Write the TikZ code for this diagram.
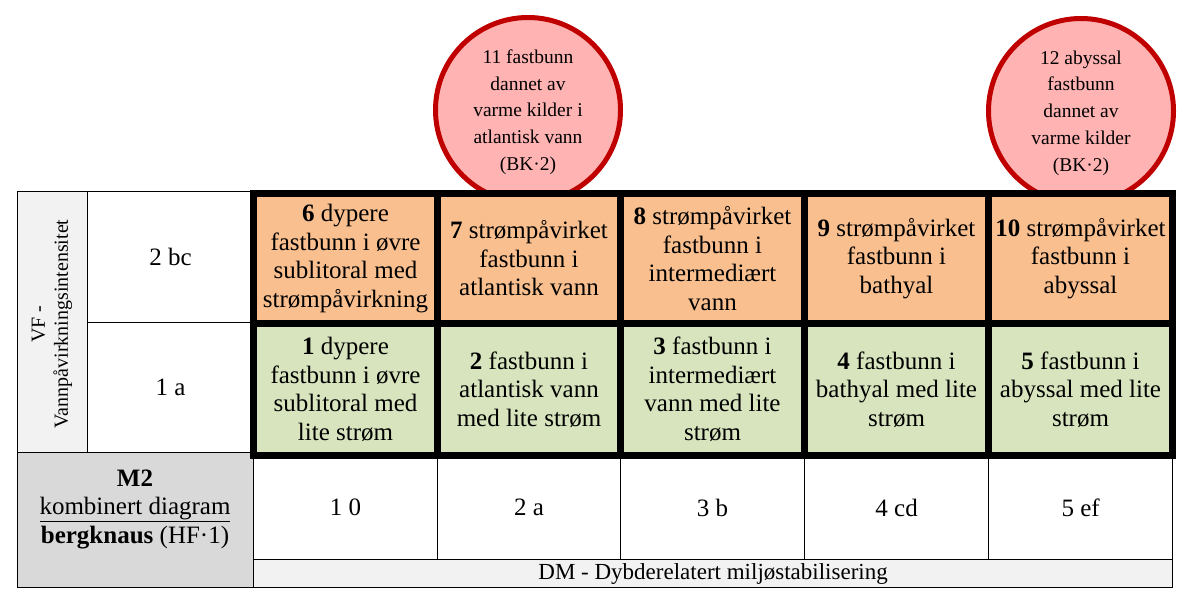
\documentclass[tikz,border=0pt]{standalone}
\usepackage{fontspec}
\setmainfont{Liberation Serif}
\definecolor{orangecell}{HTML}{F9BF8F}
\definecolor{greencell}{HTML}{D7E4BD}
\definecolor{greycell}{HTML}{D9D9D9}
\definecolor{lightcell}{HTML}{F2F2F2}
\definecolor{circfill}{HTML}{FFB3B3}
\definecolor{circline}{HTML}{C00000}
\newcommand{\cellfont}{\fontsize{25}{28.5}\selectfont}
\newcommand{\circfont}{\fontsize{19.5}{26.7}\selectfont}
\begin{document}
\begin{tikzpicture}[x=1pt,y=-1pt,
  cellbox/.style={draw=black,line width=1.2pt,inner sep=0pt,anchor=north west,font=\cellfont,align=center},
  colcell/.style={inner sep=0pt,font=\cellfont,align=center,minimum width=184pt},
  hotspot/.style={circle,draw=circline,fill=circfill,line width=5pt,minimum size=185pt,inner sep=0pt},
  hottext/.style={font=\circfont,align=center,inner sep=0pt},
  frame/.style={line width=7pt,draw=black}
]
\useasboundingbox (0,0) rectangle (1204,603);
% circles (behind the table)
\node[hotspot] (c11) at (528,110) {};
\node[hottext] (t11) at (528,112) {11 fastbunn\\dannet av\\varme kilder i\\atlantisk vann\\(BK·2)};
\node[hotspot] (c12) at (1081,111) {};
\node[hottext] (t12) at (1081,113) {12 abyssal\\fastbunn\\dannet av\\varme kilder\\(BK·2)};
% left header cells
\node[cellbox,fill=lightcell,minimum width=70pt,minimum height=261pt] (vf) at (17,191) {};
\node[font=\fontsize{20}{23}\selectfont,align=center,rotate=90,inner sep=0pt] (vftext) at (52,324) {VF -\\Vannpåvirkningsintensitet};
\node[cellbox,fill=white,minimum width=166pt,minimum height=131pt] (r2) at (87,191) {2 bc};
\node[cellbox,fill=white,minimum width=166pt,minimum height=130pt] (r1) at (87,322) {1 a};
% bottom-left grey cell
\node[cellbox,fill=greycell,minimum width=236pt,minimum height=135pt] (m2) at (17,452) {};
\node[font=\cellfont,align=center,inner sep=0pt] (m2text) at (135,509) {\textbf{M2}\\\underline{kombinert diagram}\\\textbf{bergknaus} (HF·1)};
% depth cells
\node[cellbox,fill=white,minimum width=184pt,minimum height=104pt] (d1) at (253,455) {1 0};
\node[cellbox,fill=white,minimum width=183pt,minimum height=104pt] (d2) at (437,455) {2 a};
\node[cellbox,fill=white,minimum width=184pt,minimum height=104pt] (d3) at (620,455) {3 b};
\node[cellbox,fill=white,minimum width=184pt,minimum height=104pt] (d4) at (804,455) {4 cd};
\node[cellbox,fill=white,minimum width=184pt,minimum height=104pt] (d5) at (988,455) {5 ef};
\node[cellbox,fill=lightcell,minimum width=919pt,minimum height=28pt,font=\fontsize{23}{26}\selectfont] (dm) at (253,559) {DM - Dybderelatert miljøstabilisering};
% coloured cells, upper row
\node[colcell,fill=orangecell,minimum height=130pt] (k6) at (345.5,258.5) {\textbf{6} dypere\\fastbunn i øvre\\sublitoral med\\strømpåvirkning};
\node[colcell,fill=orangecell,minimum height=130pt,minimum width=183pt] (k7) at (529,258.5) {\textbf{7} strømpåvirket\\fastbunn i\\atlantisk vann};
\node[colcell,fill=orangecell,minimum height=130pt] (k8) at (712.5,258.5) {\textbf{8} strømpåvirket\\fastbunn i\\intermediært\\vann};
\node[colcell,fill=orangecell,minimum height=130pt] (k9) at (896.5,258.5) {\textbf{9} strømpåvirket\\fastbunn i\\bathyal};
\node[colcell,fill=orangecell,minimum height=130pt] (k10) at (1080.5,258.5) {\textbf{10} strømpåvirket\\fastbunn i\\abyssal};
% coloured cells, lower row
\node[colcell,fill=greencell,minimum height=131.5pt] (k1) at (345.5,389.25) {\textbf{1} dypere\\fastbunn i øvre\\sublitoral med\\lite strøm};
\node[colcell,fill=greencell,minimum height=131.5pt,minimum width=183pt] (k2) at (529,389.25) {\textbf{2} fastbunn i\\atlantisk vann\\med lite strøm};
\node[colcell,fill=greencell,minimum height=131.5pt] (k3) at (712.5,389.25) {\textbf{3} fastbunn i\\intermediært\\vann med lite\\strøm};
\node[colcell,fill=greencell,minimum height=131.5pt] (k4) at (896.5,389.25) {\textbf{4} fastbunn i\\bathyal med lite\\strøm};
\node[colcell,fill=greencell,minimum height=131.5pt] (k5) at (1080.5,389.25) {\textbf{5} fastbunn i\\abyssal med lite\\strøm};
% thick frame
\draw[frame] (253.5,193.5) rectangle (1172.5,455);
\draw[frame] (253.5,323.5) -- (1172.5,323.5);
\foreach \xx in {437.5,620.5,804.5,988.5}
  \draw[frame] (\xx,193.5) -- (\xx,455);
\end{tikzpicture}
\end{document}
